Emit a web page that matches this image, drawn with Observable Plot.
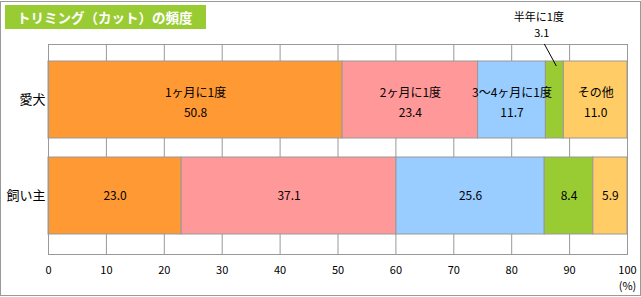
<!DOCTYPE html>
<html><head><meta charset="utf-8">
<script src="https://cdn.jsdelivr.net/npm/d3@7"></script>
<script src="https://cdn.jsdelivr.net/npm/@observablehq/plot@0.6"></script>
<style>
body{margin:0;background:#fff;}
#wrap{position:relative;width:641px;height:297px;font-family:"Noto Sans CJK JP",sans-serif;overflow:hidden;}
#frame{position:absolute;left:0;top:1px;width:641px;height:295px;box-sizing:border-box;border:1px solid #999;pointer-events:none;z-index:2;}
#title{position:absolute;left:5px;top:5px;width:201px;height:24px;background:#99cc33;color:#fff;font-weight:bold;font-size:13.5px;line-height:24px;padding-left:12px;box-sizing:border-box;z-index:2;white-space:nowrap;}
#wrap svg{position:absolute;left:0;top:0;z-index:1;}
</style></head><body>
<div id="wrap"><div id="title">トリミング（カット）の頻度</div><div id="frame"></div></div>
<script>
const categories = ["愛犬", "飼い主"];
const seriesNames = ["1ヶ月に1度", "2ヶ月に1度", "3～4ヶ月に1度", "半年に1度", "その他"];
const dogValues = [50.8, 23.4, 11.7, 3.1, 11.0];
const ownerValues = [23.0, 37.1, 25.6, 8.4, 5.9];
const xTicks = [0, 10, 20, 30, 40, 50, 60, 70, 80, 90, 100];
const colors = ["#ff9933", "#ff9999", "#99ccff", "#99cc33", "#ffcc66"];
const unitLabel = "(%)";
const calloutSeries = "半年に1度";

const data = [];
categories.forEach((c, i) => {
  const vals = i === 0 ? dogValues : ownerValues;
  seriesNames.forEach((s, j) => data.push({cat: c, series: s, value: vals[j]}));
});

const fmt = v => v.toFixed(1);
const stackText = (textFn, extra) => Plot.text(data, Plot.stackX({
  x: "value", y: "cat", z: "series", text: textFn, fontSize: 12, fill: "#000", ...extra
}));

function leader(index, scales) {
  const x = scales.x, y = scales.y;
  const i = seriesNames.indexOf(calloutSeries);
  const mid = d3.sum(dogValues.slice(0, i)) + dogValues[i] / 2;
  const top = y(categories[0]);
  return d3.create("svg:line")
    .attr("x1", x(mid) - 10).attr("y1", top - 17)
    .attr("x2", x(mid) + 2).attr("y2", top + 5)
    .attr("stroke", "#000").attr("stroke-width", 1)
    .node();
}

const chart = Plot.plot({
  width: 641,
  height: 297,
  marginLeft: 48,
  marginRight: 14,
  marginTop: 44,
  marginBottom: 43,
  style: {background: "transparent", fontFamily: "'Noto Sans CJK JP', sans-serif"},
  x: {domain: [0, 100], axis: null},
  y: {domain: categories, paddingInner: 0.2, paddingOuter: 0.19, align: 0.46, axis: null},
  color: {domain: seriesNames, range: colors},
  marks: [
    Plot.ruleX(xTicks, {stroke: "#999", strokeWidth: 1}),
    Plot.barX(data, Plot.stackX({x: "value", y: "cat", fill: "series", stroke: "#999", strokeWidth: 1})),
    Plot.frame({stroke: "#999"}),
    stackText(d => d.cat === categories[0] && d.series !== calloutSeries ? d.series : null, {dy: -7}),
    stackText(d => d.cat === categories[0] && d.series !== calloutSeries ? fmt(d.value) : null, {dy: 13}),
    stackText(d => d.cat === categories[1] ? fmt(d.value) : null, {dy: 0}),
    stackText(d => d.cat === categories[0] && d.series === calloutSeries ? d.series : null, {dy: -83, dx: -16, fontSize: 11}),
    stackText(d => d.cat === categories[0] && d.series === calloutSeries ? fmt(d.value) : null, {dy: -67, dx: -13, fontSize: 11}),
    leader,
    Plot.text(categories, {y: d => d, frameAnchor: "left", textAnchor: "end", dx: -3, fontSize: 13, fill: "#000"}),
    Plot.text(xTicks, {x: d => d, frameAnchor: "bottom", dy: 19, fontSize: 11, fill: "#000"}),
    Plot.text([unitLabel], {x: xTicks[xTicks.length - 1], frameAnchor: "bottom", dy: 35, fontSize: 11, fill: "#000"})
  ]
});
document.getElementById("wrap").appendChild(chart);
</script>
</body></html>
